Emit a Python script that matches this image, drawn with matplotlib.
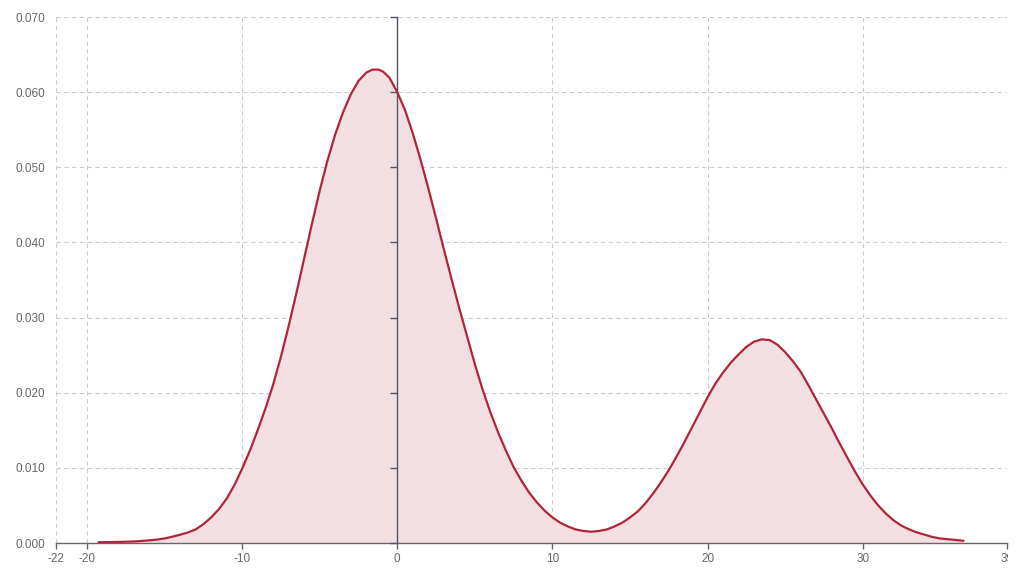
import matplotlib
matplotlib.use("Agg")
import matplotlib.pyplot as plt
from matplotlib.transforms import Bbox, TransformedBbox

plt.rcParams['font.family'] = ['Liberation Sans', 'DejaVu Sans']

# Density curve values
x_vals = [-19.25, -18.5, -18, -17.5, -17, -16.5, -16, -15.5, -15, -14.5, -14, -13.5,
          -13, -12.5, -12, -11.5, -11, -10.5, -10, -9.5, -9, -8.5, -8, -7.5, -7, -6.5,
          -6, -5.5, -5, -4.5, -4, -3.5, -3, -2.5, -2, -1.6, -1.2, -0.9, -0.5, 0, 0.5,
          1, 1.5, 2, 2.5, 3, 3.5, 4, 4.5, 5, 5.5, 6, 6.5, 7, 7.5, 8, 8.5, 9, 9.5, 10,
          10.5, 11, 11.5, 12, 12.5, 13, 13.5, 14, 14.5, 15, 15.5, 16, 16.5, 17, 17.5,
          18, 18.5, 19, 19.5, 20, 20.5, 21, 21.5, 22, 22.5, 23, 23.5, 24, 24.5, 25,
          25.5, 26, 26.5, 27, 27.5, 28, 28.5, 29, 29.5, 30, 30.5, 31, 31.5, 32, 32.5,
          33, 33.5, 34, 34.5, 35, 35.5, 36, 36.5]
density = [0.0001, 0.00012, 0.00014, 0.00017, 0.0002, 0.00027, 0.00035, 0.00045,
           0.0006, 0.00084, 0.0011, 0.0014, 0.0018, 0.0025, 0.0034, 0.0045, 0.0059,
           0.0077, 0.0099, 0.0123, 0.0150, 0.0179, 0.0211, 0.0248, 0.0289, 0.0333,
           0.0379, 0.0425, 0.0469, 0.0509, 0.0544, 0.0573, 0.0597, 0.0615, 0.0626,
           0.0630, 0.0630, 0.0627, 0.0619, 0.0600, 0.0576, 0.0545, 0.0510, 0.0472,
           0.0432, 0.0391, 0.0351, 0.0312, 0.0275, 0.0238, 0.0204, 0.0174, 0.0147,
           0.0123, 0.0101, 0.0083, 0.0067, 0.0054, 0.0043, 0.0034, 0.0027, 0.0022,
           0.0018, 0.0016, 0.0015, 0.0016, 0.0018, 0.0022, 0.0027, 0.0034, 0.0042,
           0.0053, 0.0066, 0.0081, 0.0097, 0.0115, 0.0134, 0.0154, 0.0174, 0.0194,
           0.0212, 0.0227, 0.0240, 0.0251, 0.0261, 0.0268, 0.0271, 0.0270, 0.0264,
           0.0254, 0.0242, 0.0228, 0.0210, 0.0191, 0.0172, 0.0153, 0.0133, 0.0114,
           0.0095, 0.0078, 0.0063, 0.0050, 0.0039, 0.0030, 0.0023, 0.0018, 0.0014,
           0.0011, 0.0008, 0.0006, 0.0005, 0.0004, 0.0003]

x_ticks = [-22, -20, -10, 0, 10, 20, 30, 39.3]
x_tick_labels = ['-22', '-20', '-10', '0', '10', '20', '30', '39']
y_ticks = [0.0, 0.01, 0.02, 0.03, 0.04, 0.05, 0.06, 0.07]
y_tick_labels = ['0.000', '0.010', '0.020', '0.030', '0.040', '0.050', '0.060', '0.070']

line_color = '#b2243a'
fill_color = '#f3dfe2'
grid_color = '#cccccc'
text_color = '#666666'

W, H = 1027, 573
fig = plt.figure(figsize=(W / 100, H / 100), dpi=100)
ax = fig.add_axes([56 / W, (H - 543) / H, (1007 - 56) / W, (543 - 17) / H])

ax.fill_between(x_vals, density, 0, color=fill_color, linewidth=0, zorder=1)
ax.plot(x_vals, density, color=line_color, linewidth=1.6, zorder=3,
        solid_joinstyle='round', solid_capstyle='round')

ax.set_xlim(-22, 39.3)
ax.set_ylim(0, 0.07)

ax.set_xticks(x_ticks)
ax.set_xticklabels(x_tick_labels)
ax.set_yticks(y_ticks)
ax.set_yticklabels(y_tick_labels)

ax.grid(True, color=grid_color, linestyle=(0, (4, 3)), linewidth=0.8, zorder=0)
ax.set_axisbelow(True)

for s in ['left', 'right', 'top']:
    ax.spines[s].set_visible(False)
ax.spines['bottom'].set_color('#666666')
ax.spines['bottom'].set_linewidth(1.0)

ax.tick_params(axis='x', length=4, width=1, color='#666666', labelcolor=text_color,
               labelsize=8.5, pad=3)
ax.tick_params(axis='y', length=0, labelcolor=text_color, labelsize=8.5, pad=8)

# y axis line through x = 0 with small ticks
sec = ax.secondary_yaxis(0, transform=ax.transData)
sec.set_zorder(2.5)
sec.set_yticks(y_ticks)
sec.set_yticklabels([''] * len(y_ticks))
sec.spines['left'].set_color('#555566')
sec.spines['left'].set_linewidth(1.0)
sec.tick_params(axis='y', length=5, width=1, color='#555566')

# clip last x label like the reference (only the first digit visible)
clip = TransformedBbox(Bbox([[0, 0], [1008 / W, 1]]), fig.transFigure)
for lab in ax.get_xticklabels():
    lab.set_clip_box(clip)
    lab.set_clip_on(True)

fig.savefig('out.png', dpi=100)
